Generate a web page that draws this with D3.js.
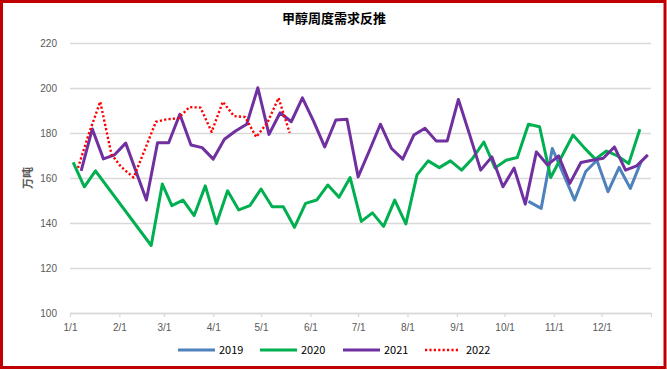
<!DOCTYPE html>
<html>
<head>
<meta charset="utf-8">
<script src="https://cdn.jsdelivr.net/npm/d3@7"></script>
<style>
	body { margin: 0; background: #fff; }
	svg { display: block; font-family: "Noto Sans CJK SC", "Noto Sans", sans-serif; }
	.tick text { fill: #595959; font-size: 10px; }
</style>
</head>
<body>
<svg id="chart"></svg>
<script>
/* data: weekly demand, 10k tonnes */
var years = ["2019", "2020", "2021", "2022"];

var dates2019 = ["10/16","10/24","10/31","11/7","11/14","11/21","11/28","12/5","12/12","12/19","12/26"];
var values2019 = [149.6,146.5,173.1,161.7,150.2,162.9,167.9,153.9,164.7,155.4,167.6];

var dates2020 = ["1/3","1/10","1/17","2/21","2/28","3/6","3/13","3/20","3/27","4/3","4/10","4/17","4/24",
	"5/1","5/8","5/15","5/22","5/29","6/5","6/12","6/19","6/26","7/3","7/10","7/17","7/24","7/31",
	"8/7","8/14","8/21","8/28","9/4","9/11","9/18","9/25","10/2","10/9","10/16","10/23","10/30",
	"11/13","11/20","11/27","12/4","12/11","12/18","12/25"];
var values2020 = [166.9,156.1,163.2,130.0,157.3,147.7,150.2,143.3,156.5,139.7,154.3,145.8,147.7,
	155.1,147.2,147.2,138.1,148.7,150.2,156.9,151.4,160.2,140.7,144.5,138.5,150.2,139.6,
	161.4,167.6,164.6,167.6,163.5,168.8,176.0,164.5,167.9,169.1,183.9,182.8,160.2,
	179.1,173.5,168.4,172.0,169.8,166.4,181.7];

var dates2021 = ["1/8","1/15","1/22","1/29","2/5","2/18","2/25","3/4","3/11","3/18","3/25","4/1","4/8",
	"4/15","4/22","4/29","5/6","5/13","5/20","5/27","6/3","6/10","6/17","6/24","7/1","7/8","7/15",
	"7/22","7/29","8/5","8/12","8/19","8/26","9/2","9/9","9/16","9/23","9/30","10/7","10/14","10/21",
	"10/28","11/4","11/11","11/18","11/25","12/2","12/9","12/16","12/23","12/30"];
var values2021 = [163.2,181.8,168.5,170.3,175.5,150.2,175.7,175.7,188.3,174.7,173.5,168.4,177.2,
	180.9,183.9,200.1,179.4,189.0,185.0,195.6,185.3,173.8,185.8,186.1,160.5,172.0,183.9,
	173.1,168.4,179.1,182.1,176.5,176.5,194.9,179.4,163.5,169.4,156.1,164.4,148.4,171.6,
	165.8,169.8,157.6,166.9,167.9,168.8,173.8,163.5,165.4,170.3];

var dates2022 = ["1/6","1/13","1/20","1/27","2/2","2/10","2/24","3/3","3/10","3/17","3/24","3/31",
	"4/7","4/14","4/21","4/28","5/5","5/12","5/19"];
var values2022 = [164.5,180.0,193.9,170.6,165.0,160.2,185.0,186.1,186.5,191.5,191.3,180.5,
	193.9,187.5,187.1,178.2,184.6,195.6,180.1];

var yTicks = [100, 120, 140, 160, 180, 200, 220];

/* settings */
var width = 667,
	height = 370,
	margin = { top: 43, bottom: 57, left: 70, right: 16 },
	innerWidth = width - margin.left - margin.right,
	innerHeight = height - margin.top - margin.bottom;

var styles = {
	"2019": { color: "#4f81bd", dash: null, w: 3 },
	"2020": { color: "#00b050", dash: null, w: 3 },
	"2021": { color: "#7030a0", dash: null, w: 3 },
	"2022": { color: "#ff0000", dash: "2.2,2.2", w: 2.4 }
};

var parseDay = d3.timeParse("%m/%d");   // year 1900, not a leap year
var seriesDates = { "2019": dates2019, "2020": dates2020, "2021": dates2021, "2022": dates2022 };
var seriesValues = { "2019": values2019, "2020": values2020, "2021": values2021, "2022": values2022 };

var series = years.map(function (y) {
	return {
		year: y,
		points: seriesDates[y].map(function (d, i) {
			return { date: parseDay(d), value: seriesValues[y][i] };
		})
	};
});

var svg = d3.select("#chart")
	.attr("width", width)
	.attr("height", height);

svg.append("rect")
	.attr("x", 1.5).attr("y", 1.5)
	.attr("width", 663.5).attr("height", 366)
	.attr("fill", "#fff")
	.attr("stroke", "#c00000")
	.attr("stroke-width", 3);

/* title */
svg.append("text")
	.attr("x", 334)
	.attr("y", 23)
	.attr("text-anchor", "middle")
	.style("font-size", "13px")
	.style("font-weight", "bold")
	.attr("fill", "#000")
	.text("甲醇周度需求反推");

var g = svg.append("g")
	.attr("transform", "translate(" + margin.left + "," + margin.top + ")");

/* scales */
var xScale = d3.scaleTime()
	.domain([parseDay("1/1"), new Date(1901, 0, 1)])
	.range([0, innerWidth]);

var yScale = d3.scaleLinear()
	.domain([100, 220])
	.range([innerHeight, 0]);

/* gridlines + y labels */
var yAxis = d3.axisLeft(yScale)
	.tickValues(yTicks)
	.tickSize(-innerWidth)
	.tickPadding(13)
	.tickFormat(d3.format("d"));

g.append("g")
	.attr("class", "y-axis")
	.call(yAxis)
	.call(function (a) {
		a.select(".domain").remove();
		a.selectAll(".tick line").attr("stroke", "#d9d9d9").attr("stroke-width", 1.3);
	});

/* x-axis */
var monthTicks = d3.timeMonth.range(parseDay("1/1"), new Date(1901, 0, 1)).concat([new Date(1901, 0, 1)]);
var fmt = d3.timeFormat("%-m/%-d");

var xAxis = d3.axisBottom(xScale)
	.tickValues(monthTicks)
	.tickSize(4)
	.tickSizeOuter(0)
	.tickPadding(5)
	.tickFormat(function (d) { return d.getFullYear() === 1900 ? fmt(d) : ""; });

g.append("g")
	.attr("class", "x-axis")
	.attr("transform", "translate(0," + innerHeight + ")")
	.call(xAxis)
	.call(function (a) {
		a.select(".domain").attr("stroke", "#d9d9d9").attr("stroke-width", 1.3);
		a.selectAll(".tick line").attr("stroke", "#d9d9d9").attr("stroke-width", 1.3);
		a.selectAll(".tick text").attr("dy", "0.9em");
	});

/* y legend */
svg.append("text")
	.attr("transform", "translate(32,178) rotate(-90)")
	.attr("text-anchor", "middle")
	.style("font-size", "11px")
	.style("font-weight", "bold")
	.attr("fill", "#595959")
	.text("万吨");

/* lines */
var line = d3.line()
	.x(function (d) { return xScale(d.date); })
	.y(function (d) { return yScale(d.value); });

g.selectAll(".series")
	.data(series)
	.enter()
	.append("path")
	.attr("class", "series")
	.attr("fill", "none")
	.attr("stroke", function (d) { return styles[d.year].color; })
	.attr("stroke-width", function (d) { return styles[d.year].w; })
	.attr("stroke-dasharray", function (d) { return styles[d.year].dash; })
	.attr("stroke-linejoin", "round")
	.attr("d", function (d) { return line(d.points); });

/* legend */
var legendX = [178, 260, 343, 425];
var legend = svg.selectAll(".legend")
	.data(years)
	.enter()
	.append("g")
	.attr("class", "legend")
	.attr("transform", function (d, i) { return "translate(" + legendX[i] + ",350)"; });

legend.append("line")
	.attr("x1", 0).attr("x2", function (d) { return d === "2022" ? 33 : 37; })
	.attr("stroke", function (d) { return styles[d].color; })
	.attr("stroke-width", function (d) { return styles[d].w; })
	.attr("stroke-dasharray", function (d) { return styles[d].dash; });

legend.append("text")
	.attr("x", function (d) { return d === "2022" ? 41 : 41; })
	.attr("dy", "0.35em")
	.style("font-size", "11px")
	.attr("fill", "#000")
	.text(function (d) { return d; });
</script>
</body>
</html>
